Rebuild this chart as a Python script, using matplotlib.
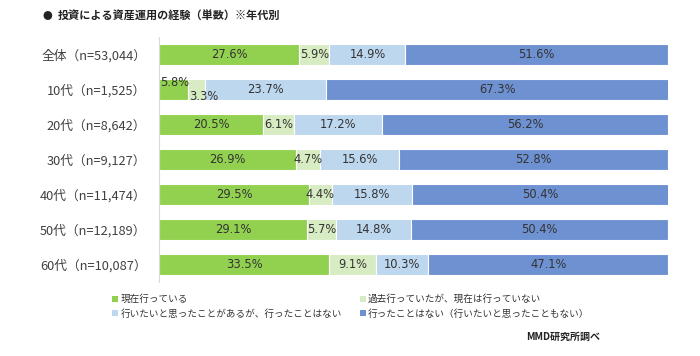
import matplotlib
matplotlib.use('Agg')
import matplotlib.pyplot as plt
from matplotlib.patches import Patch

plt.rcParams['font.family'] = ['Noto Sans CJK JP', 'DejaVu Sans']

# data
groups = ['全体（n=53,044）', '10代（n=1,525）', '20代（n=8,642）', '30代（n=9,127）',
          '40代（n=11,474）', '50代（n=12,189）', '60代（n=10,087）']
current = [27.6, 5.8, 20.5, 26.9, 29.5, 29.1, 33.5]
past = [5.9, 3.3, 6.1, 4.7, 4.4, 5.7, 9.1]
wanted = [14.9, 23.7, 17.2, 15.6, 15.8, 14.8, 10.3]
never = [51.6, 67.3, 56.2, 52.8, 50.4, 50.4, 47.1]
series_names = ['現在行っている', '過去行っていたが、現在は行っていない',
                '行いたいと思ったことがあるが、行ったことはない',
                '行ったことはない（行いたいと思ったこともない）']
colors = ['#92D050', '#D8ECC3', '#BDD7EE', '#6E91D1']

# small labels that don't fit get nudged (row, series) -> offset in points
label_nudge = {(1, 0): (1, 5), (1, 1): (5, -5)}

fig = plt.figure(figsize=(7, 3.56), dpi=100)
ax = fig.add_axes([0.2271, 0.2079, 0.7272, 0.6881])

series = [current, past, wanted, never]
y = list(range(len(groups)))
left = [0.0] * len(groups)
for s, (vals, col) in enumerate(zip(series, colors)):
    bars = ax.barh(y, vals, left=left, height=0.6, color=col,
                   edgecolor='white', linewidth=0.8)
    for i, (b, v) in enumerate(zip(bars, vals)):
        dx, dy = label_nudge.get((i, s), (0, 0))
        ax.annotate(f'{v:.1f}%', (b.get_x() + b.get_width() / 2, i),
                    xytext=(dx, dy), textcoords='offset points',
                    ha='center', va='center', fontsize=8.3,
                    color='#333333', family='DejaVu Sans')
    left = [l + v for l, v in zip(left, vals)]

ax.set_xlim(0, 100)
ax.set_ylim(6.5, -0.5)
ax.set_yticks(y)
ax.set_yticklabels(groups, fontsize=9.2, color='#404040')
ax.tick_params(axis='y', length=0, pad=9)
ax.set_xticks([])
for sp in ['top', 'right', 'bottom']:
    ax.spines[sp].set_visible(False)
ax.spines['left'].set_color('#D9D9D9')

fig.text(0.061, 0.955, '●', fontsize=7, va='center', color='#222222')
fig.text(0.083, 0.955, '投資による資産運用の経験（単数）※年代別', fontsize=8,
         fontweight='bold', va='center', color='#222222')

handles = [Patch(facecolor=c, edgecolor='none') for c in colors]
order = [0, 2, 1, 3]
fig.legend([handles[k] for k in order], [series_names[k] for k in order],
           ncol=2, loc='upper left', bbox_to_anchor=(0.148, 0.197),
           frameon=False, fontsize=6.9, handlelength=0.6, handleheight=0.6,
           handletextpad=0.25, columnspacing=1.9, labelspacing=0.5,
           labelcolor='#333333')

fig.text(0.857, 0.053, 'MMD研究所調べ', fontsize=7.2, fontweight='bold',
         ha='right', va='center', color='#222222')

fig.savefig('out.png', dpi=100)
